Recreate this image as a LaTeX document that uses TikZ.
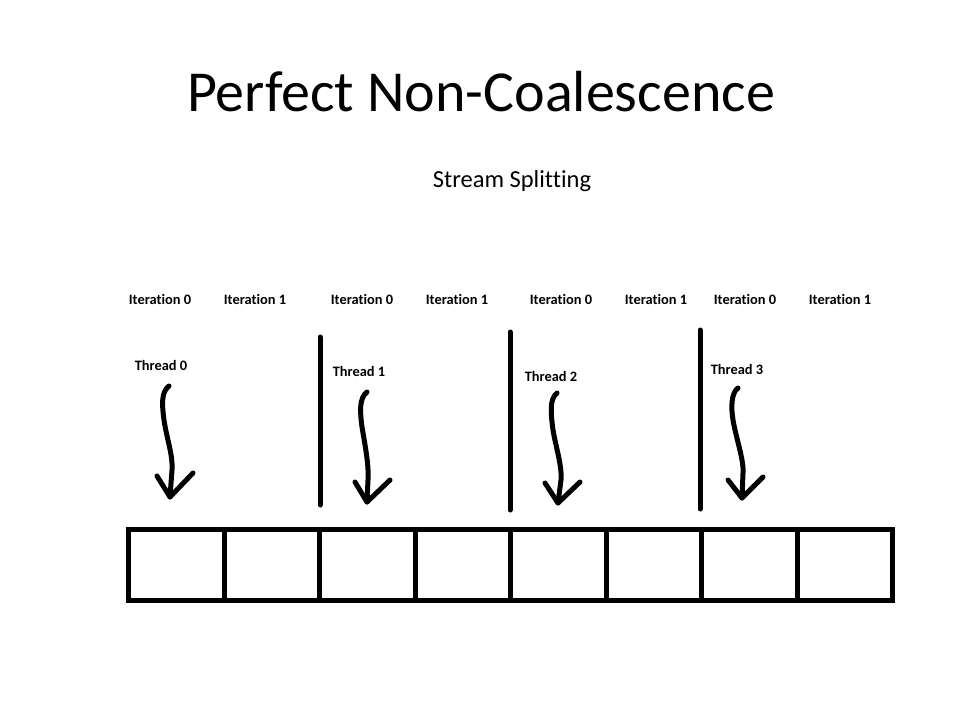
\documentclass[tikz,border=0pt]{standalone}
\usepackage{fontspec}
\setmainfont[RawFeature=-liga]{Carlito}
\begin{document}
\begin{tikzpicture}[x=1pt,y=-1pt,
  lbl/.style={font=\fontsize{14.4}{16}\selectfont\bfseries, inner sep=0pt, anchor=center},
  cell/.style={draw, line width=5pt, minimum width=95.5pt, minimum height=71pt, inner sep=0pt, anchor=north west},
  bar/.style={line width=5pt, line cap=round},
  wave/.style={line width=5pt, line cap=round, line join=round}]
\useasboundingbox (0,0) rectangle (960,720);
\node[font=\fontsize{58}{66}\selectfont, anchor=center] (title) at (481,92) {Perfect Non-Coalescence};
\node[font=\fontsize{24.5}{28}\selectfont, anchor=center] (sub) at (512,181) {Stream Splitting};
% iteration labels
\node[lbl] (i1) at (160,299) {Iteration 0};
\node[lbl] (i2) at (255,299) {Iteration 1};
\node[lbl] (i3) at (362,299) {Iteration 0};
\node[lbl] (i4) at (457,299) {Iteration 1};
\node[lbl] (i5) at (561,299) {Iteration 0};
\node[lbl] (i6) at (656,299) {Iteration 1};
\node[lbl] (i7) at (745,299) {Iteration 0};
\node[lbl] (i8) at (840,299) {Iteration 1};
% thread labels
\node[lbl] (t0) at (161,365) {Thread 0};
\node[lbl] (t1) at (359,371) {Thread 1};
\node[lbl] (t2) at (551,376) {Thread 2};
\node[lbl] (t3) at (737,369) {Thread 3};
% cells
\foreach \k in {0,...,7} {
  \node[cell] (c\k) at ({126+95.5*\k},527) {};
}
% separators
\coordinate (s1a) at (320,337); \coordinate (s1b) at (320,505);
\coordinate (s2a) at (510,332); \coordinate (s2b) at (510,510);
\coordinate (s3a) at (700,330); \coordinate (s3b) at (700,509);
\draw[bar] (s1a) -- (s1b);
\draw[bar] (s2a) -- (s2b);
\draw[bar] (s3a) -- (s3b);
% thread arrows
\coordinate (a0) at (169,386); \coordinate (h0) at (170,497);
\draw[wave] (a0) .. controls (161,392) and (162,405) .. (164,420)
  .. controls (167,440) and (173,455) .. (172,470) -- (h0);
\draw[wave] (157,476) -- (h0) -- (193,473);
\coordinate (a1) at (367,392); \coordinate (h1) at (367,502);
\draw[wave] (a1) .. controls (359,398) and (360,412) .. (362,427)
  .. controls (365,445) and (369,465) .. (368,480) -- (h1);
\draw[wave] (355,482) -- (h1) -- (390,480);
\coordinate (a2) at (557,393); \coordinate (h2) at (558,503);
\draw[wave] (a2) .. controls (549,399) and (551,415) .. (553,430)
  .. controls (556,448) and (562,465) .. (561,480) -- (h2);
\draw[wave] (545,483) -- (h2) -- (580,482);
\coordinate (a3) at (738,388); \coordinate (h3) at (742,498);
\draw[wave] (a3) .. controls (731,393) and (731,408) .. (733,420)
  .. controls (736,438) and (744,460) .. (743,473) -- (h3);
\draw[wave] (728,480) -- (h3) -- (763,477);
\end{tikzpicture}
\end{document}
